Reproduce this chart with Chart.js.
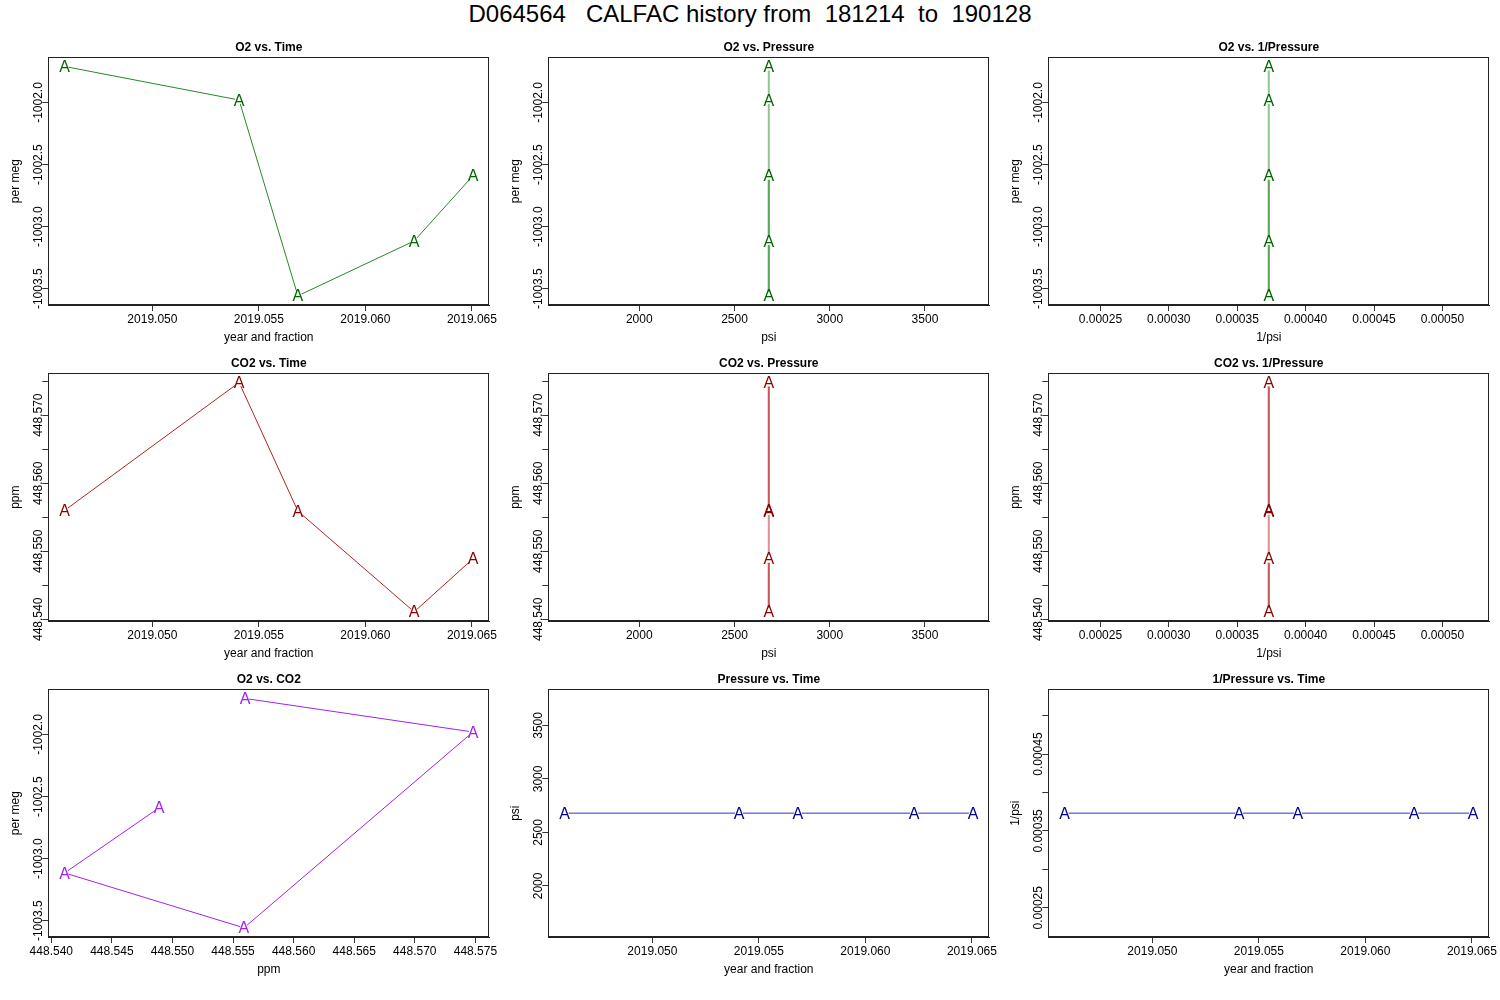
<!DOCTYPE html>
<html>
<head>
<meta charset="utf-8">
<title>D064564 CALFAC history</title>
<script src="https://cdn.jsdelivr.net/npm/chart.js@4.4.1/dist/chart.umd.min.js"></script>
<style>
  html, body { margin: 0; padding: 0; background: #fff; }
  #page { position: relative; width: 1500px; height: 1000px; overflow: hidden; }
  #main-title {
    position: absolute; left: 0; top: 0; width: 1500px;
    text-align: center; white-space: pre; color: #000;
    font: 24px "Liberation Sans", Arial, sans-serif; line-height: 28px;
  }
  canvas.panel { position: absolute; }
</style>
</head>
<body>
<div id="page">
  <div id="main-title">D064564   CALFAC history from  181214  to  190128</div>
  <canvas class="panel" id="p0" width="500" height="316" style="left:0px;top:40px"></canvas>
  <canvas class="panel" id="p1" width="500" height="316" style="left:500px;top:40px"></canvas>
  <canvas class="panel" id="p2" width="500" height="316" style="left:1000px;top:40px"></canvas>
  <canvas class="panel" id="p3" width="500" height="316" style="left:0px;top:356px"></canvas>
  <canvas class="panel" id="p4" width="500" height="316" style="left:500px;top:356px"></canvas>
  <canvas class="panel" id="p5" width="500" height="316" style="left:1000px;top:356px"></canvas>
  <canvas class="panel" id="p6" width="500" height="316" style="left:0px;top:672px"></canvas>
  <canvas class="panel" id="p7" width="500" height="316" style="left:500px;top:672px"></canvas>
  <canvas class="panel" id="p8" width="500" height="316" style="left:1000px;top:672px"></canvas>
</div>
<script>
// measurements, one per calibration run
const sampleTime = [2019.04588, 2019.05407, 2019.05683, 2019.06229, 2019.06505];
const o2PerMeg = [-1001.71, -1001.98, -1003.557, -1003.115, -1002.59];
const co2Ppm = [448.5560, 448.5748, 448.5559, 448.5411, 448.5489];
const pressurePsi = [2680, 2680, 2680, 2680, 2680];
const inversePsi = [0.0003731, 0.0003731, 0.0003731, 0.0003731, 0.0003731];

// tick positions and labels
const timeTicks = [2019.050, 2019.055, 2019.060, 2019.065];
const timeLabels = ['2019.050', '2019.055', '2019.060', '2019.065'];
const o2Ticks = [-1002.0, -1002.5, -1003.0, -1003.5];
const o2Labels = ['-1002.0', '-1002.5', '-1003.0', '-1003.5'];
const co2Ticks = [448.540, 448.545, 448.550, 448.555, 448.560, 448.565, 448.570, 448.575];
const co2Labels = ['448.540', '448.545', '448.550', '448.555', '448.560', '448.565', '448.570', '448.575'];
const co2LabelsSparse = ['448.540', '', '448.550', '', '448.560', '', '448.570', ''];
const psiTicks = [2000, 2500, 3000, 3500];
const psiLabels = ['2000', '2500', '3000', '3500'];
const invPsiTicks = [0.00025, 0.00030, 0.00035, 0.00040, 0.00045, 0.00050];
const invPsiLabels = ['0.00025', '0.00030', '0.00035', '0.00040', '0.00045', '0.00050'];
const invPsiLabelsSparse = ['0.00025', '', '0.00035', '', '0.00045', ''];

const FONT = '"Liberation Sans", Arial, Helvetica, sans-serif';

const GREEN = { mark: '#006400', rgb: '34,139,34' };
const RED = { mark: '#8b0000', rgb: '178,34,34' };
const PURPLE = { mark: '#a020f0', rgb: '160,32,240' };
const BLUE = { mark: '#00008b', rgb: '50,50,200' };

const panels = [
  { title: 'O2 vs. Time', x: sampleTime, y: o2PerMeg, col: GREEN,
    xTicks: timeTicks, xLabels: timeLabels, xTitle: 'year and fraction',
    yTicks: o2Ticks, yLabels: o2Labels, yTitle: 'per meg' },
  { title: 'O2 vs. Pressure', x: pressurePsi, y: o2PerMeg, col: GREEN, overlap: true,
    xTicks: psiTicks, xLabels: psiLabels, xTitle: 'psi',
    yTicks: o2Ticks, yLabels: o2Labels, yTitle: 'per meg' },
  { title: 'O2 vs. 1/Pressure', x: inversePsi, y: o2PerMeg, col: GREEN, overlap: true,
    xTicks: invPsiTicks, xLabels: invPsiLabels, xTitle: '1/psi',
    yTicks: o2Ticks, yLabels: o2Labels, yTitle: 'per meg' },
  { title: 'CO2 vs. Time', x: sampleTime, y: co2Ppm, col: RED,
    xTicks: timeTicks, xLabels: timeLabels, xTitle: 'year and fraction',
    yTicks: co2Ticks, yLabels: co2LabelsSparse, yTitle: 'ppm' },
  { title: 'CO2 vs. Pressure', x: pressurePsi, y: co2Ppm, col: RED, overlap: true,
    xTicks: psiTicks, xLabels: psiLabels, xTitle: 'psi',
    yTicks: co2Ticks, yLabels: co2LabelsSparse, yTitle: 'ppm' },
  { title: 'CO2 vs. 1/Pressure', x: inversePsi, y: co2Ppm, col: RED, overlap: true,
    xTicks: invPsiTicks, xLabels: invPsiLabels, xTitle: '1/psi',
    yTicks: co2Ticks, yLabels: co2LabelsSparse, yTitle: 'ppm' },
  { title: 'O2 vs. CO2', x: co2Ppm, y: o2PerMeg, col: PURPLE,
    xTicks: co2Ticks, xLabels: co2Labels, xTitle: 'ppm',
    yTicks: o2Ticks, yLabels: o2Labels, yTitle: 'per meg' },
  { title: 'Pressure vs. Time', x: sampleTime, y: pressurePsi, col: BLUE,
    xTicks: timeTicks, xLabels: timeLabels, xTitle: 'year and fraction',
    yTicks: psiTicks, yLabels: psiLabels, yTitle: 'psi' },
  { title: '1/Pressure vs. Time', x: sampleTime, y: inversePsi, col: BLUE,
    xTicks: timeTicks, xLabels: timeLabels, xTitle: 'year and fraction',
    yTicks: invPsiTicks, yLabels: invPsiLabelsSparse, yTitle: '1/psi' },
];

// R style axis range: 4% extension, +-40% when all values are equal
function rRange(values) {
  let lo = Math.min(...values);
  let hi = Math.max(...values);
  if (lo === hi) {
    const d = 0.4 * Math.abs(lo);
    lo -= d;
    hi += d;
  }
  const pad = (hi - lo) * 0.04;
  return { min: lo - pad, max: hi + pad };
}

// plotting character "A" at each point (with the small line gap of type="b"),
// box around the plot region and rotated y tick labels
const rFrame = {
  id: 'rFrame',
  afterDatasetsDraw(chart, args, opts) {
    const { ctx } = chart;
    const pts = chart.getDatasetMeta(0).data;
    ctx.save();
    ctx.fillStyle = '#fff';
    pts.forEach((pt) => {
      ctx.beginPath();
      ctx.arc(pt.x, pt.y, 4, 0, 2 * Math.PI);
      ctx.fill();
    });
    ctx.fillStyle = opts.mark;
    ctx.font = '16px ' + FONT;
    ctx.textAlign = 'center';
    ctx.textBaseline = 'alphabetic';
    pts.forEach((pt) => ctx.fillText('A', pt.x, pt.y + 5.6));
    ctx.restore();
  },
  afterDraw(chart, args, opts) {
    const { ctx, chartArea: a } = chart;
    const y = chart.scales.y;
    ctx.save();
    ctx.strokeStyle = '#222';
    ctx.lineWidth = 1;
    ctx.strokeRect(Math.round(a.left) + 0.5, Math.round(a.top) + 0.5,
      Math.round(a.right - a.left) - 1, Math.round(a.bottom - a.top) - 1);
    ctx.fillStyle = '#000';
    ctx.font = '12px ' + FONT;
    ctx.textAlign = 'center';
    ctx.textBaseline = 'alphabetic';
    y.ticks.forEach((t, i) => {
      const label = opts.labels[i];
      if (!label) return;
      ctx.save();
      ctx.translate(a.left - 6.3, y.getPixelForValue(t.value));
      ctx.rotate(-Math.PI / 2);
      ctx.fillText(label, 0, 0);
      ctx.restore();
    });
    ctx.restore();
  }
};

function axisCommon(range, ticks) {
  return {
    type: 'linear',
    bounds: 'data',
    min: range.min,
    max: range.max,
    afterBuildTicks: (axis) => { axis.ticks = ticks.map((v) => ({ value: v })); },
    grid: { display: true, drawOnChartArea: false, drawTicks: true, tickLength: 6, tickColor: '#333', color: '#333' },
    border: { display: true, color: '#222', width: 1 },
  };
}

function makePanel(id, p) {
  const xr = rRange(p.x);
  const yr = rRange(p.y);
  const alpha = p.overlap ? 0.5 : 1;
  const points = p.x.map((v, i) => ({ x: v, y: p.y[i] }));

  new Chart(document.getElementById(id), {
    type: 'scatter',
    data: {
      datasets: [{
        data: points,
        showLine: true,
        clip: false,
        borderWidth: p.overlap ? 2 : 1,
        borderColor: `rgba(${p.col.rgb},${alpha})`,
        // stroke every piece on its own so overlapping pieces darken as in R
        segment: {
          borderColor: (ctx) => `rgba(${p.col.rgb},${ctx.p0DataIndex % 2 ? alpha : alpha - 0.001})`,
        },
        pointRadius: 0,
      }],
    },
    options: {
      responsive: false,
      animation: false,
      events: [],
      layout: { padding: { left: 0, right: 10.7, top: 0, bottom: 0 } },
      plugins: {
        legend: { display: false },
        tooltip: { enabled: false },
        title: {
          display: true,
          text: p.title,
          fullSize: false,
          color: '#000',
          font: { family: FONT, size: 12, weight: 'bold' },
          padding: { top: 0, bottom: 2.9 },
        },
        rFrame: { labels: p.yLabels, mark: p.col.mark },
      },
      scales: {
        x: {
          ...axisCommon(xr, p.xTicks),
          afterFit: (axis) => { axis.height = 51; },
          ticks: {
            autoSkip: false, maxRotation: 0, minRotation: 0, padding: 1, color: '#000',
            font: { family: FONT, size: 12 },
            callback: (v, i) => p.xLabels[i],
          },
          title: {
            display: true, text: p.xTitle, color: '#000',
            font: { family: FONT, size: 12 },
            padding: { top: 0, bottom: 11.1 },
          },
        },
        y: {
          ...axisCommon(yr, p.yTicks),
          afterFit: (axis) => { axis.width = 48.3; },
          ticks: { display: false },
          title: {
            display: true, text: p.yTitle, color: '#000',
            font: { family: FONT, size: 12 },
            padding: { top: 8.5, bottom: 0 },
          },
        },
      },
    },
    plugins: [rFrame],
  });
}

panels.forEach((p, i) => makePanel('p' + i, p));
</script>
</body>
</html>
